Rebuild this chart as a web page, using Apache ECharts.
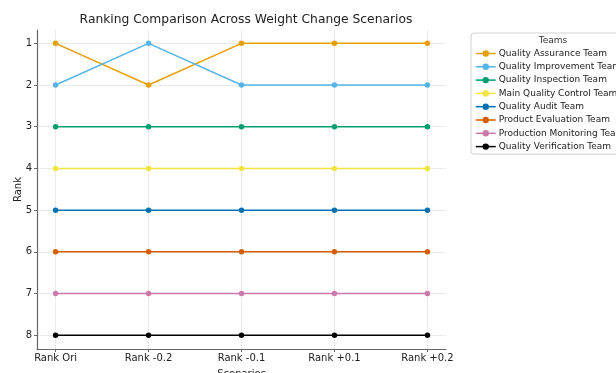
<!DOCTYPE html>
<html>
<head>
<meta charset="utf-8">
<script src="https://cdn.jsdelivr.net/npm/echarts@6/dist/echarts.min.js"></script>
<style>
  html, body { margin: 0; padding: 0; background: #fff; }
  #chart { width: 616px; height: 373px; }
</style>
</head>
<body>
<div id="chart"></div>
<script>
// scenario labels on the x axis
const scenarios = ['Rank Ori', 'Rank -0.2', 'Rank -0.1', 'Rank +0.1', 'Rank +0.2']
const rankTicks = [1, 2, 3, 4, 5, 6, 7, 8]

const teams = [
  'Quality Assurance Team',
  'Quality Improvement Team',
  'Quality Inspection Team',
  'Main Quality Control Team',
  'Quality Audit Team',
  'Product Evaluation Team',
  'Production Monitoring Team',
  'Quality Verification Team'
]
const qualityAssurance = [1, 2, 1, 1, 1]
const qualityImprovement = [2, 1, 2, 2, 2]
const qualityInspection = [3, 3, 3, 3, 3]
const mainQualityControl = [4, 4, 4, 4, 4]
const qualityAudit = [5, 5, 5, 5, 5]
const productEvaluation = [6, 6, 6, 6, 6]
const productionMonitoring = [7, 7, 7, 7, 7]
const qualityVerification = [8, 8, 8, 8, 8]

const colors = ['#E69F00', '#56B4E9', '#009E73', '#F0E442', '#0072B2', '#D55E00', '#CC79A7', '#000000']
const ranks = [qualityAssurance, qualityImprovement, qualityInspection, mainQualityControl,
  qualityAudit, productEvaluation, productionMonitoring, qualityVerification]

const chart = echarts.init(document.getElementById('chart'))

let series = []
for (let i = 0; i < teams.length; i++) {
  series.push({
    name: teams[i],
    type: 'line',
    symbol: 'circle',
    symbolSize: 5.5,
    lineStyle: { width: 1.5 },
    data: ranks[i].map((v, j) => [j, v])
  })
}

chart.setOption({
  animation: false,
  color: colors,
  textStyle: { fontFamily: 'DejaVu Sans', color: '#333' },
  title: [
    {
      text: 'Ranking Comparison Across Weight Change Scenarios',
      left: 241, top: 9, textAlign: 'center',
      textStyle: { fontSize: 12.3, fontWeight: 'normal', color: '#222' }
    },
    {
      text: 'Teams',
      left: 548, top: 31, textAlign: 'center',
      textStyle: { fontSize: 9, fontWeight: 'normal', color: '#333' }
    }
  ],
  legend: {
    orient: 'vertical',
    left: 471, top: 33,
    padding: [16, 6, 3, 4],
    itemGap: 4.3,
    itemWidth: 20,
    itemHeight: 8,
    borderColor: '#d0d0d0',
    borderWidth: 1,
    borderRadius: 3,
    lineStyle: { width: 1.5 },
    textStyle: { fontSize: 9, color: '#222', padding: [0, 0, 0, -2] },
    data: teams
  },
  grid: { left: 37, right: 170, top: 30, bottom: 24, outerBoundsMode: 'none', containLabel: false },
  xAxis: {
    type: 'value',
    min: -0.2, max: 4.2,
    name: 'Scenarios',
    nameLocation: 'middle',
    nameGap: 20,
    nameMoveOverlap: false,
    nameTextStyle: { fontSize: 10, color: '#222' },
    axisLine: { onZero: false, lineStyle: { color: '#666', width: 1.2 } },
    axisTick: { length: 3, customValues: [0, 1, 2, 3, 4], lineStyle: { color: '#666' } },
    axisLabel: {
      customValues: [0, 1, 2, 3, 4],
      fontSize: 10, color: '#222', margin: 4,
      formatter: v => scenarios[Math.round(v)]
    },
    splitLine: { show: true, lineStyle: { color: '#ccc', type: 'dotted', width: 0.8 } }
  },
  yAxis: {
    type: 'value',
    inverse: true,
    min: 0.68, max: 8.33,
    name: 'Rank',
    nameLocation: 'middle',
    nameGap: 14,
    nameMoveOverlap: false,
    nameTextStyle: { fontSize: 10, color: '#222' },
    axisLine: { show: true, onZero: false, lineStyle: { color: '#666', width: 1.2 } },
    axisTick: { show: true, length: 3, customValues: rankTicks, lineStyle: { color: '#666' } },
    axisLabel: { customValues: rankTicks, fontSize: 10, color: '#222', margin: 5 },
    splitLine: { show: true, lineStyle: { color: '#ccc', type: 'dotted', width: 0.8 } }
  },
  series: series
})
</script>
</body>
</html>
